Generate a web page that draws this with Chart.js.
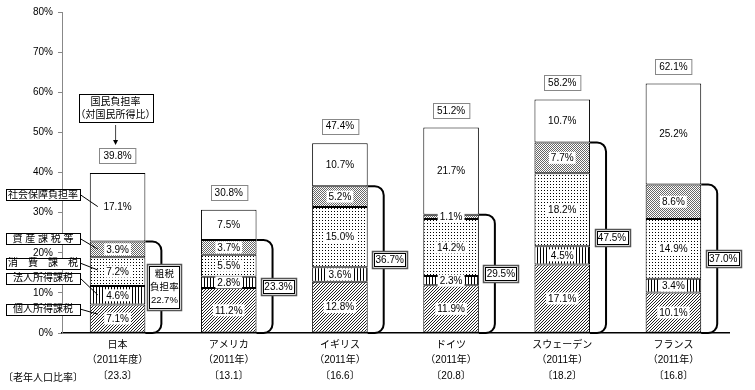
<!DOCTYPE html>
<html>
<head>
<meta charset="utf-8">
<script src="https://cdn.jsdelivr.net/npm/chart.js@4/dist/chart.umd.min.js"></script>
<style>
  html, body { margin: 0; padding: 0; background: #fff; }
  #wrap { width: 755px; height: 390px; }
</style>
</head>
<body>
<div id="wrap"><canvas id="chart" width="755" height="390"></canvas></div>
<script>
const countries = ['日本', 'アメリカ', 'イギリス', 'ドイツ', 'スウェーデン', 'フランス'];
const years = ['（2011年度）', '（2011年）', '（2011年）', '（2011年）', '（2011年）', '（2011年）'];
const elderlyRatio = [23.3, 13.1, 16.6, 20.8, 18.2, 16.8];

const individualTax = [7.1, 11.2, 12.8, 11.9, 17.1, 10.1];
const corporateTax = [4.6, 2.8, 3.6, 2.3, 4.5, 3.4];
const consumptionTax = [7.2, 5.5, 15.0, 14.2, 18.2, 14.9];
const assetTax = [3.9, 3.7, 5.2, 1.1, 7.7, 8.6];
const socialSecurity = [17.1, 7.5, 10.7, 21.7, 10.7, 25.2];

const taxBurden = [22.7, 23.3, 36.7, 29.5, 47.5, 37.0];
const nationalBurden = [39.8, 30.8, 47.4, 51.2, 58.2, 62.1];

const yTicks = [0, 10, 20, 30, 40, 50, 60, 70, 80];

const FONT = '"Liberation Sans", "Noto Sans CJK JP", sans-serif';

// little tile patterns for the stacked segments
function makePattern(w, h, pixels, color) {
  const c = document.createElement('canvas');
  c.width = w; c.height = h;
  const g = c.getContext('2d');
  g.fillStyle = '#fff';
  g.fillRect(0, 0, w, h);
  g.fillStyle = color || '#000';
  pixels.forEach(p => g.fillRect(p[0], p[1], 1, 1));
  return g.createPattern(c, 'repeat');
}

const patDiag = makePattern(3, 3, [[0, 2], [1, 1], [2, 0]], '#222');
const patVert = makePattern(3, 1, [[0, 0]]);
const patDots = makePattern(3, 3, [[1, 1]]);
const patCheck = makePattern(2, 2, [[0, 0], [1, 1]], '#666');

const segments = [
  { label: '個人所得課税', data: individualTax, bg: patDiag },
  { label: '法人所得課税', data: corporateTax, bg: patVert },
  { label: '消費課税', data: consumptionTax, bg: patDots },
  { label: '資産課税等', data: assetTax, bg: patCheck },
  { label: '社会保障負担率', data: socialSecurity, bg: '#fff' }
];

function textBox(ctx, lines, cx, cy, lh, opts) {
  ctx.font = (opts.size || 10) + 'px ' + FONT;
  let w = 0;
  lines.forEach(l => { w = Math.max(w, ctx.measureText(l).width); });
  const bw = (opts.w || w + 8), bh = (opts.h || lines.length * lh + 3);
  const x = Math.round(cx - bw / 2) + 0.5, y = Math.round(cy - bh / 2) + 0.5;
  ctx.fillStyle = '#fff';
  ctx.fillRect(x, y, bw, bh);
  if (opts.double) {
    ctx.strokeStyle = '#555';
    ctx.lineWidth = 1.5;
    ctx.strokeRect(x, y, bw, bh);
    ctx.strokeStyle = '#000';
    ctx.lineWidth = 1;
    ctx.strokeRect(x + 2, y + 2, bw - 4, bh - 4);
  } else {
    ctx.strokeStyle = opts.stroke || '#000';
    ctx.lineWidth = 1;
    ctx.strokeRect(x, y, bw, bh);
  }
  ctx.fillStyle = '#000';
  ctx.textAlign = 'center';
  ctx.textBaseline = 'middle';
  lines.forEach((l, k) => {
    ctx.fillText(l, cx, cy - (lines.length - 1) * lh / 2 + k * lh + 0.5);
  });
}

const annotate = {
  id: 'annotate',
  afterDatasetsDraw(chart) {
    const ctx = chart.ctx;
    const ys = chart.scales.y;
    const y0 = ys.getPixelForValue(0);
    ctx.save();

    // values inside the segments
    ctx.font = '10px ' + FONT;
    ctx.textAlign = 'center';
    ctx.textBaseline = 'middle';
    segments.forEach((s, d) => {
      const meta = chart.getDatasetMeta(d);
      meta.data.forEach((el, i) => {
        const t = s.data[i].toFixed(1) + '%';
        const w = ctx.measureText(t).width;
        const my = (el.y + el.base) / 2;
        ctx.fillStyle = '#fff';
        ctx.fillRect(el.x - w / 2 - 2, my - 6, w + 4, 12);
        ctx.fillStyle = '#000';
        ctx.fillText(t, el.x, my + 0.5);
      });
    });

    // totals above the bars
    chart.getDatasetMeta(4).data.forEach((el, i) => {
      textBox(ctx, [nationalBurden[i].toFixed(1) + '%'], el.x, el.y - 17, 12, { stroke: '#888', h: 15 });
    });

    // brackets for the tax burden
    chart.getDatasetMeta(3).data.forEach((el, i) => {
      const R = el.x + el.width / 2;
      const t = el.y, b = y0;
      const vx = R + 16, r = 9;
      ctx.beginPath();
      ctx.moveTo(R, t);
      ctx.lineTo(vx - r, t);
      ctx.arcTo(vx, t, vx, t + r, r);
      ctx.lineTo(vx, b - r);
      ctx.arcTo(vx, b, vx - r, b, r);
      ctx.lineTo(R, b);
      ctx.strokeStyle = '#000';
      ctx.lineWidth = 2;
      ctx.stroke();
      const lab = taxBurden[i].toFixed(1) + '%';
      if (i === 0) {
        textBox(ctx, ['粗税', '負担率', lab], R + 19, (t + b) / 2, 13, { double: true, w: 34, h: 46, size: 9.5 });
      } else {
        textBox(ctx, [lab], R + 22, (t + b) / 2, 12, { double: true, w: 35, h: 17 });
      }
    });

    // legend boxes on the left with leader lines into the Japan bar
    const jp = chart.getDatasetMeta(0).data[0];
    const jl = jp.x - jp.width / 2;
    const legend = [
      { text: '社会保障負担率', y: 194.5, to: 31.5 },
      { text: '資 産 課 税 等', y: 238.5, to: 20.9 },
      { text: '消　費　課　税', y: 263, to: 15.7 },
      { text: '法人所得課税', y: 278, to: 9.5 },
      { text: '個人所得課税', y: 309, to: 4.7 }
    ];
    legend.forEach(l => {
      ctx.beginPath();
      ctx.moveTo(80, l.y);
      ctx.lineTo(jl + 8, ys.getPixelForValue(l.to));
      ctx.strokeStyle = '#000';
      ctx.lineWidth = 1;
      ctx.stroke();
      textBox(ctx, [l.text], 43, l.y, 12, { w: 74, h: 11 });
    });

    // national burden callout with arrow
    textBox(ctx, ['国民負担率', '（対国民所得比）'], jp.x - 2, 108, 13, { w: 74, h: 28 });
    ctx.beginPath();
    ctx.moveTo(jp.x - 2, 125);
    ctx.lineTo(jp.x - 2, 143);
    ctx.strokeStyle = '#444';
    ctx.lineWidth = 1;
    ctx.stroke();
    ctx.beginPath();
    ctx.moveTo(jp.x - 4.5, 140);
    ctx.lineTo(jp.x + 0.5, 140);
    ctx.lineTo(jp.x - 2, 145);
    ctx.closePath();
    ctx.fillStyle = '#000';
    ctx.fill();

    // elderly ratio row title
    ctx.font = '10px ' + FONT;
    ctx.textAlign = 'left';
    ctx.textBaseline = 'middle';
    ctx.fillStyle = '#000';
    ctx.fillText('〔老年人口比率〕', 3, 378);

    ctx.restore();
  }
};

new Chart(document.getElementById('chart').getContext('2d'), {
  type: 'bar',
  data: {
    labels: countries.map((c, i) => [c, years[i], '〔' + elderlyRatio[i].toFixed(1) + '〕']),
    datasets: segments.map(s => ({
      label: s.label,
      data: s.data,
      backgroundColor: s.bg,
      borderColor: '#000',
      borderWidth: 1,
      borderSkipped: false,
      barPercentage: 1,
      categoryPercentage: 0.5
    }))
  },
  options: {
    responsive: false,
    animation: false,
    layout: { padding: { top: 12, right: 26, left: 0, bottom: 0 } },
    plugins: { legend: { display: false }, tooltip: { enabled: false } },
    scales: {
      x: {
        stacked: true,
        grid: { display: false, drawTicks: false, tickLength: 0 },
        border: { display: true, color: '#000', width: 1.5 },
        ticks: { color: '#000', font: { family: FONT, size: 10, lineHeight: 1.55 }, padding: 4, maxRotation: 0, autoSkip: false },
        afterFit: s => { s.height = 57; }
      },
      y: {
        stacked: true,
        min: 0,
        max: 80,
        afterBuildTicks: s => { s.ticks = yTicks.map(v => ({ value: v })); },
        grid: { drawOnChartArea: false, tickLength: 4, color: '#888' },
        border: { color: '#888', width: 1 },
        ticks: { color: '#000', font: { family: FONT, size: 10 }, padding: 5, callback: v => v + '%' },
        afterFit: s => { s.width = 62; }
      }
    }
  },
  plugins: [annotate]
});
</script>
</body>
</html>
